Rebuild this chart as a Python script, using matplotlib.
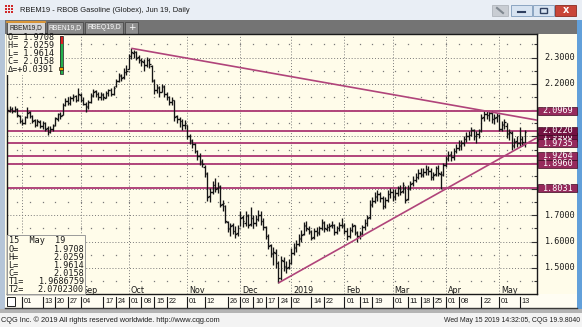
import matplotlib
matplotlib.use("Agg")
import matplotlib.pyplot as plt
from matplotlib.patches import Rectangle
from matplotlib import font_manager
import numpy as np
import pandas as pd

W, H, DPI = 582, 327, 100

# ---------------- data ----------------
holidays = ["2018-09-03", "2018-11-22", "2018-12-25", "2019-01-01",
            "2019-01-21", "2019-02-18", "2019-04-19"]
dates = pd.bdate_range("2018-07-24", "2019-05-15")
dates = dates[~dates.isin(pd.to_datetime(holidays))]

opens = [
    2.095, 2.098, 2.105, 2.096, 2.104, 2.078, 2.060, 2.052, 2.074, 2.092,
    2.076, 2.062, 2.044, 2.056, 2.038, 2.050, 2.032, 2.016, 2.028, 2.042,
    2.068, 2.086, 2.082, 2.118, 2.136, 2.126, 2.146, 2.152, 2.140, 2.158,
    2.140, 2.124, 2.112, 2.132, 2.156, 2.172, 2.160, 2.148, 2.160, 2.146,
    2.166, 2.176, 2.160, 2.190, 2.212, 2.232, 2.224, 2.246, 2.258, 2.306,
    2.318, 2.320, 2.302, 2.290, 2.284, 2.272, 2.290, 2.268, 2.212, 2.176,
    2.186, 2.170, 2.188, 2.162, 2.150, 2.130, 2.138, 2.076, 2.066, 2.058,
    2.044, 2.042, 2.002, 1.984, 1.972, 1.946, 1.926, 1.904, 1.885, 1.858,
    1.772, 1.788, 1.816, 1.802, 1.806, 1.742, 1.735, 1.675, 1.648, 1.662,
    1.642, 1.632, 1.700, 1.692, 1.672, 1.698, 1.668, 1.688, 1.672, 1.686,
    1.702, 1.678, 1.656, 1.622, 1.586, 1.552, 1.558, 1.518, 1.462, 1.528,
    1.506, 1.502, 1.518, 1.556, 1.578, 1.592, 1.612, 1.628, 1.662, 1.648,
    1.638, 1.616, 1.642, 1.634, 1.652, 1.672, 1.648, 1.656, 1.662, 1.662,
    1.636, 1.652, 1.664, 1.662, 1.642, 1.622, 1.646, 1.662, 1.632, 1.622,
    1.632, 1.656, 1.672, 1.692, 1.742, 1.756, 1.772, 1.782, 1.766, 1.736,
    1.760, 1.782, 1.790, 1.772, 1.786, 1.804, 1.792, 1.805, 1.762, 1.802,
    1.822, 1.836, 1.846, 1.862, 1.856, 1.866, 1.876, 1.868, 1.846, 1.856,
    1.878, 1.858, 1.856, 1.892, 1.916, 1.932, 1.920, 1.946, 1.956, 1.966,
    1.976, 1.990, 2.002, 2.006, 2.024, 2.000, 2.010, 2.025, 2.072, 2.086,
    2.080, 2.088, 2.066, 2.072, 2.078, 2.030, 2.046, 2.040, 2.012, 2.014,
    1.966, 1.982, 1.976, 1.990, 1.9708]
highs = [
    2.112, 2.115, 2.110, 2.114, 2.108, 2.082, 2.068, 2.078, 2.110, 2.096,
    2.082, 2.066, 2.068, 2.062, 2.060, 2.055, 2.040, 2.038, 2.048, 2.075,
    2.090, 2.092, 2.128, 2.145, 2.150, 2.155, 2.160, 2.158, 2.185, 2.165,
    2.148, 2.130, 2.138, 2.165, 2.180, 2.178, 2.168, 2.170, 2.165, 2.172,
    2.182, 2.185, 2.192, 2.218, 2.240, 2.238, 2.262, 2.270, 2.315, 2.335,
    2.330, 2.325, 2.310, 2.300, 2.296, 2.302, 2.298, 2.270, 2.220, 2.198,
    2.190, 2.200, 2.195, 2.170, 2.155, 2.150, 2.140, 2.082, 2.075, 2.065,
    2.062, 2.045, 2.010, 1.992, 1.975, 1.950, 1.935, 1.915, 1.890, 1.865,
    1.805, 1.830, 1.840, 1.825, 1.815, 1.760, 1.740, 1.680, 1.672, 1.670,
    1.660, 1.665, 1.715, 1.700, 1.718, 1.705, 1.730, 1.700, 1.700, 1.722,
    1.715, 1.690, 1.660, 1.630, 1.590, 1.580, 1.570, 1.525, 1.545, 1.540,
    1.525, 1.535, 1.575, 1.595, 1.605, 1.630, 1.645, 1.675, 1.680, 1.660,
    1.645, 1.650, 1.655, 1.660, 1.685, 1.680, 1.668, 1.672, 1.680, 1.668,
    1.660, 1.675, 1.690, 1.670, 1.650, 1.655, 1.672, 1.665, 1.640, 1.642,
    1.665, 1.685, 1.700, 1.760, 1.770, 1.790, 1.796, 1.790, 1.775, 1.770,
    1.795, 1.805, 1.800, 1.800, 1.812, 1.815, 1.825, 1.810, 1.815, 1.830,
    1.848, 1.860, 1.875, 1.878, 1.880, 1.890, 1.888, 1.880, 1.865, 1.888,
    1.890, 1.870, 1.900, 1.925, 1.945, 1.945, 1.955, 1.970, 1.985, 1.985,
    2.000, 2.015, 2.020, 2.035, 2.030, 2.020, 2.030, 2.085, 2.098, 2.098,
    2.097, 2.095, 2.085, 2.090, 2.085, 2.060, 2.065, 2.050, 2.030, 2.020,
    1.995, 2.000, 2.035, 2.000, 2.0259]
lows = [
    2.090, 2.092, 2.090, 2.094, 2.075, 2.050, 2.042, 2.048, 2.070, 2.070,
    2.052, 2.036, 2.040, 2.032, 2.030, 2.022, 2.005, 2.012, 2.020, 2.038,
    2.060, 2.068, 2.080, 2.115, 2.118, 2.120, 2.135, 2.132, 2.135, 2.130,
    2.118, 2.092, 2.105, 2.128, 2.150, 2.150, 2.140, 2.140, 2.138, 2.145,
    2.155, 2.152, 2.158, 2.188, 2.205, 2.212, 2.220, 2.235, 2.255, 2.295,
    2.300, 2.290, 2.280, 2.268, 2.250, 2.265, 2.262, 2.205, 2.160, 2.165,
    2.150, 2.168, 2.150, 2.140, 2.120, 2.118, 2.060, 2.050, 2.035, 2.025,
    2.030, 1.990, 1.970, 1.955, 1.935, 1.910, 1.890, 1.885, 1.845, 1.755,
    1.750, 1.780, 1.790, 1.785, 1.730, 1.715, 1.670, 1.635, 1.620, 1.630,
    1.615, 1.620, 1.660, 1.655, 1.660, 1.650, 1.660, 1.650, 1.660, 1.680,
    1.665, 1.645, 1.610, 1.570, 1.540, 1.510, 1.500, 1.443, 1.455, 1.490,
    1.480, 1.495, 1.515, 1.550, 1.560, 1.585, 1.600, 1.625, 1.640, 1.630,
    1.605, 1.610, 1.620, 1.625, 1.645, 1.635, 1.640, 1.640, 1.650, 1.625,
    1.628, 1.640, 1.650, 1.630, 1.605, 1.612, 1.635, 1.625, 1.600, 1.610,
    1.622, 1.645, 1.660, 1.685, 1.730, 1.745, 1.755, 1.750, 1.725, 1.728,
    1.752, 1.765, 1.755, 1.760, 1.775, 1.778, 1.785, 1.745, 1.760, 1.795,
    1.812, 1.825, 1.838, 1.845, 1.845, 1.855, 1.855, 1.835, 1.835, 1.850,
    1.850, 1.800, 1.850, 1.885, 1.905, 1.905, 1.912, 1.935, 1.948, 1.950,
    1.965, 1.980, 1.985, 2.000, 1.985, 1.975, 1.995, 2.015, 2.060, 2.065,
    2.060, 2.050, 2.048, 2.055, 2.020, 2.020, 2.030, 1.995, 1.985, 1.950,
    1.955, 1.960, 1.960, 1.962, 1.9614]
closes = [
    2.100, 2.104, 2.098, 2.106, 2.080, 2.058, 2.050, 2.072, 2.090, 2.078,
    2.060, 2.045, 2.058, 2.040, 2.050, 2.030, 2.018, 2.030, 2.040, 2.070,
    2.085, 2.078, 2.120, 2.135, 2.128, 2.145, 2.150, 2.140, 2.160, 2.140,
    2.125, 2.115, 2.130, 2.155, 2.170, 2.160, 2.150, 2.158, 2.148, 2.165,
    2.175, 2.160, 2.185, 2.210, 2.230, 2.222, 2.245, 2.250, 2.305, 2.320,
    2.322, 2.300, 2.292, 2.285, 2.270, 2.292, 2.275, 2.215, 2.175, 2.185,
    2.170, 2.190, 2.160, 2.150, 2.132, 2.140, 2.075, 2.065, 2.058, 2.045,
    2.050, 2.000, 1.985, 1.970, 1.945, 1.925, 1.905, 1.895, 1.860, 1.770,
    1.790, 1.815, 1.800, 1.810, 1.740, 1.745, 1.680, 1.650, 1.660, 1.640,
    1.630, 1.650, 1.690, 1.680, 1.700, 1.665, 1.690, 1.670, 1.685, 1.700,
    1.680, 1.655, 1.620, 1.585, 1.555, 1.560, 1.520, 1.460, 1.530, 1.505,
    1.500, 1.520, 1.555, 1.575, 1.590, 1.610, 1.625, 1.660, 1.650, 1.640,
    1.615, 1.640, 1.635, 1.650, 1.675, 1.650, 1.655, 1.660, 1.665, 1.635,
    1.650, 1.665, 1.660, 1.640, 1.620, 1.645, 1.660, 1.635, 1.620, 1.630,
    1.655, 1.670, 1.690, 1.740, 1.755, 1.770, 1.780, 1.765, 1.735, 1.760,
    1.780, 1.790, 1.770, 1.785, 1.805, 1.790, 1.815, 1.760, 1.800, 1.820,
    1.835, 1.845, 1.860, 1.855, 1.865, 1.875, 1.870, 1.845, 1.855, 1.880,
    1.860, 1.855, 1.890, 1.915, 1.930, 1.920, 1.945, 1.955, 1.965, 1.975,
    1.990, 2.000, 2.005, 2.025, 2.000, 2.010, 2.020, 2.070, 2.085, 2.080,
    2.090, 2.065, 2.070, 2.080, 2.030, 2.045, 2.055, 2.010, 2.015, 1.965,
    1.980, 1.975, 1.990, 1.977, 2.0158]

levels = [2.0969, 2.0220, 1.9735, 1.9264, 1.8960, 1.8031]
level_labels = ["2.0969", "2.0220", "1.9735", "1.9264", "1.8960", "1.8031"]
hidden_level, hidden_label = 1.9960, "1.9960"

trend_down = [("2018-10-02", 2.335), ("2019-05-15", 2.0702300)]
trend_up = [("2018-12-24", 1.443), ("2019-05-15", 1.9686759)]

price_ticks = [1.5, 1.6, 1.7, 1.8, 1.9, 2.0, 2.1, 2.2, 2.3]
price_labels_shown = [1.5, 1.6, 1.7, 2.2, 2.3]
price_minor = [1.45, 1.55, 1.65, 1.75, 1.85, 1.95, 2.05, 2.15, 2.25, 2.35]

date_ticks = ["2018-08-01", "2018-08-13", "2018-08-20", "2018-08-27", "2018-09-04",
              "2018-09-17", "2018-09-24", "2018-10-01", "2018-10-08", "2018-10-15",
              "2018-10-22", "2018-11-01", "2018-11-12", "2018-11-26", "2018-12-03",
              "2018-12-10", "2018-12-17", "2018-12-24", "2019-01-02", "2019-01-14",
              "2019-01-22", "2019-02-01", "2019-02-11", "2019-02-19", "2019-03-01",
              "2019-03-11", "2019-03-18", "2019-03-25", "2019-04-01", "2019-04-08",
              "2019-04-22", "2019-05-01", "2019-05-13"]
month_starts = ["2018-08-01", "2018-09-04", "2018-10-01", "2018-11-01", "2018-12-03",
                "2019-01-02", "2019-02-01", "2019-03-01", "2019-04-01", "2019-05-01"]
month_label_dates = month_starts[1:]
month_names = ["Sep", "Oct", "Nov", "Dec", "2019", "Feb", "Mar", "Apr", "May"]

info_top = ["O= 1.9708", "H= 2.0259", "L= 1.9614", "C= 2.0158", "Δ=+0.0391"]
info_bottom_keys = ["O=", "H=", "L=", "C=", "T1=", "T2="]
info_bottom_vals = ["1.9708", "2.0259", "1.9614", "2.0158", "1.9686759", "2.0702300"]

# ---------------- styling ----------------
names = {f.name for f in font_manager.fontManager.ttflist}
NARROW = "Liberation Sans Narrow" if "Liberation Sans Narrow" in names else "Liberation Sans"
MONO = "DejaVu Sans Mono"
CREAM = "#FFFCEA"
LINE = "#B0447A"
BOX = "#962A5C"
BOX_DARK = "#731242"
GRID = "#7a7a7a"

fig = plt.figure(figsize=(W / DPI, H / DPI), dpi=DPI)
rend = fig.canvas.get_renderer()

bg = fig.add_axes([0, 0, 1, 1])
bg.set_xlim(0, W); bg.set_ylim(H, 0); bg.axis("off"); bg.set_zorder(0)

PL, PR, PT, PB = 6.5, 537.3, 33.5, 294.3
ax = fig.add_axes([PL / W, 1 - PB / H, (PR - PL) / W, (PB - PT) / H])
ax.set_zorder(1); ax.patch.set_alpha(0)
ax.set_xlim(-0.2, 209.0)
ax.set_ylim(1.3996, 2.3913)

ov = fig.add_axes([0, 0, 1, 1])
ov.set_xlim(0, W); ov.set_ylim(H, 0); ov.axis("off"); ov.set_zorder(2); ov.patch.set_alpha(0)


def R(axx, x, y, w, h, fc, ec="none", lw=0.0, z=1):
    p = Rectangle((x, y), w, h, facecolor=fc, edgecolor=ec, linewidth=lw, zorder=z)
    axx.add_patch(p)
    return p


def fit_text(axx, x, y, s, width, family, ha="left", va="center", color="black", z=5):
    t = axx.text(x, y, s, fontsize=10, family=family, ha=ha, va=va, color=color, zorder=z)
    w = t.get_window_extent(rend).width
    t.set_fontsize(10 * width / w)
    return t


pos = {d: i for i, d in enumerate(dates)}


def idx(s):
    return pos[pd.Timestamp(s)]


def xpx(i):
    return ax.transData.transform((i, 2.0))[0]


def ypx(p):
    return H - ax.transData.transform((0, p))[1]


# ---------------- window chrome ----------------
R(bg, 0, 0, W, H, "#C9D6E6")
R(bg, 0, 0, W, 20, "#E9EEF5")
R(bg, 577, 20, 5, 292, "#62A0DA")
R(bg, 0, 20, 5, 292, "#B5C5D8")
R(bg, 5, 20, 572, 13.5, "#747474")
# tabs
R(bg, 7, 21.5, 38, 12, "#D6D6D6", "#4a4a4a", 0.6, 2)
bg.plot([7, 45], [21.6, 21.6], color="#F0A030", lw=1.2, zorder=3)
R(bg, 47, 21.5, 36, 12, "#8E8E8E", "#4a4a4a", 0.6, 2)
R(bg, 85, 21.5, 38, 12, "#8E8E8E", "#4a4a4a", 0.6, 2)
R(bg, 125, 21.5, 13, 12, "#8E8E8E", "#4a4a4a", 0.6, 2)
fit_text(bg, 26, 27.6, "RBEM19,D", 33, NARROW, ha="center", color="#202020")
fit_text(bg, 65, 27.6, "RBEN19,D", 33, NARROW, ha="center", color="white")
fit_text(bg, 104, 27.6, "RBEQ19,D", 33, NARROW, ha="center", color="white")
bg.text(131.5, 27.3, "+", fontsize=6.5, ha="center", va="center", color="white", zorder=5)
# title
for r in range(3):
    for c in range(3):
        R(bg, 5 + c * 3, 5 + r * 3, 2, 2, "#D02828", z=3)
fit_text(bg, 20, 10.5, "RBEM19 - RBOB Gasoline (Globex), Jun 19, Daily", 168, NARROW, color="#1a1a1a")
# window buttons
R(bg, 492, 5, 16, 11, "#C9CDD3", "#a8adb5", 0.5, 2)
bg.plot([497, 503], [8, 13], color="#808890", lw=1.5, zorder=3)
R(bg, 511, 5, 21, 11, "#D7E3F1", "#7f9bbb", 0.6, 2)
bg.plot([518, 525], [11.5, 11.5], color="#304060", lw=1.5, zorder=3)
R(bg, 533, 5, 21, 11, "#D7E3F1", "#7f9bbb", 0.6, 2)
R(bg, 540, 8, 7, 5, "none", "#304060", 1.0, 3)
R(bg, 555, 5, 21, 11, "#C94538", "#8a2a20", 0.6, 2)
bg.text(565.5, 10.3, "x", fontsize=7, ha="center", va="center", color="white", weight="bold", zorder=4)
# chart + axis area
R(bg, 5, 33.5, 572, 261, CREAM)
R(bg, 5, 294.3, 572, 13.5, "#FFFDF3")
bg.plot([5, 577], [307.8, 307.8], color="#3a3a3a", lw=1.0, zorder=2)
R(bg, 0, 308.5, W, 4, "#B4B4B4")
R(bg, 0, 312.5, W, 14.5, "#F3F3F3")
R(bg, 7, 296.5, 8, 9.5, "white", "#202020", 0.7, 2)
fit_text(bg, 1, 320.3, "CQG Inc. \u00a9 2019 All rights reserved worldwide. http://www.cqg.com", 221, NARROW, color="#202020")
fit_text(bg, 580, 320.3, "Wed May 15 2019 14:32:05, CQG 19.9.8040", 136, NARROW, ha="right", color="#202020")

# ---------------- chart ----------------
for s in ax.spines.values():
    s.set_color("#1a1a1a"); s.set_linewidth(1.0)
ax.set_xticks([])
ax.yaxis.set_ticks_position("right")
ax.set_yticks(price_ticks)
ax.set_yticks(price_minor, minor=True)
ax.set_yticklabels([])
ax.tick_params(axis="y", which="major", direction="in", length=4, width=0.8, colors="#333333")
ax.tick_params(axis="y", which="minor", direction="in", length=2, width=0.8, colors="#333333")

for p in price_ticks:
    ax.axhline(p, color=GRID, lw=0.7, ls=(0, (1, 2)), zorder=1)
for d in month_starts:
    ax.axvline(idx(d), color=GRID, lw=0.7, ls=(0, (1, 2)), zorder=1)
# weekly minor dots (including upcoming weeks in the blank right margin)
ext = pd.bdate_range(dates[0], "2019-05-31")
ext = ext[~ext.isin(pd.to_datetime(holidays))]
wk = [i for i in range(1, len(ext)) if ext[i].weekday() < ext[i - 1].weekday()]
for p in price_minor:
    ax.plot(wk, [p] * len(wk), ls="none", marker="s", ms=0.9, color=GRID, mew=0, zorder=1)

for lv in levels:
    ax.axhline(lv, color=LINE, lw=1.4, zorder=2)

x = np.arange(len(dates))
BARC = "#141414"
ax.vlines(x, lows, highs, color=BARC, lw=0.95, zorder=5)
ax.hlines(opens, x - 0.6, x, color=BARC, lw=0.95, zorder=5)
ax.hlines(closes, x, x + 0.6, color=BARC, lw=0.95, zorder=5)

xr = ax.get_xlim()[1]
for (d1, p1), (d2, p2) in (trend_down, trend_up):
    x1, x2 = idx(d1), idx(d2)
    pr = p2 + (p2 - p1) / (x2 - x1) * (xr - x2)
    ax.plot([x1, xr], [p1, pr], color=LINE, lw=1.2, zorder=6, solid_capstyle="butt")

# ---------------- overlays ----------------
# right axis price labels (the others sit under the level boxes)
for p in price_labels_shown:
    ov.text(559.5, ypx(p), f"{p:.4f}", family=MONO, fontsize=6.1, ha="center", va="center",
            color="#1a1a1a", zorder=2)
# partly hidden trendline label between 2.0220 and 1.9735
R(ov, 538.2, ypx(hidden_level) - 4, 38.5, 8, BOX_DARK, "#2a0515", 0.5, 3)
ht = ov.text(557.5, ypx(hidden_level) - 1.2, hidden_label, family=MONO, fontsize=6.1,
             ha="center", va="center", color="white", zorder=3)
clip = Rectangle((538.2, ypx(2.0220) + 4), 38.5, ypx(1.9735) - ypx(2.0220) - 8,
                 transform=ov.transData)
ht.set_clip_path(clip)
for lv, lab in zip(levels, level_labels):
    fc = BOX_DARK if lab == "2.0220" else BOX
    z = 4 if lab != "1.9735" else 5
    R(ov, 538.2, ypx(lv) - 4, 38.5, 8, fc, "#3a0a20", 0.5, z)
    ov.text(557.5, ypx(lv), lab, family=MONO, fontsize=6.1, ha="center", va="center",
            color="white", zorder=z)

# month labels and date row
for d, name in zip(month_label_dates, month_names):
    ov.text(xpx(idx(d)) + 1.8, 290.8, name, fontsize=5.8, family="DejaVu Sans",
            ha="left", va="center", color="#1a1a1a", zorder=3)
for d in date_ticks:
    xp = xpx(idx(d))
    bg.plot([xp, xp], [296.5, 306.5], color="#1a1a1a", lw=0.8, zorder=3)
    fit_text(bg, xp + 1.8, 301.8, pd.Timestamp(d).strftime("%d"), 8.2, NARROW, color="#1a1a1a")

# top-left info panel
R(ov, 7, 34.5, 57, 40, CREAM, z=4)
for k, s in enumerate(info_top):
    ov.text(7.5, 37.4 + 8.15 * k, s, family=MONO, fontsize=6.1, ha="left", va="center",
            color="#1a1a1a", zorder=5)
R(ov, 59.5, 35.5, 3, 8, "#E02020", z=5)
R(ov, 59.5, 43.5, 3, 30.5, "#22B14C", z=5)
R(ov, 59.5, 35.5, 3, 38.5, "none", "#303030", 0.6, 6)
R(ov, 59.3, 67.3, 3.4, 2.6, "#F0A000", "#202020", 0.5, 7)

# bottom-left info box
R(ov, 7, 235, 78, 59.3, CREAM, "#9a9a9a", 0.7, 6)
ov.text(9, 240.8, "15  May  19", family=MONO, fontsize=6.1, ha="left", va="center",
        color="#1a1a1a", zorder=7)
for k, (kk, vv) in enumerate(zip(info_bottom_keys, info_bottom_vals)):
    yy = 249.2 + 8.05 * k
    ov.text(8.5, yy, kk, family=MONO, fontsize=6.1, ha="left", va="center", color="#1a1a1a", zorder=7)
    ov.text(83.8, yy, vv, family=MONO, fontsize=6.1, ha="right", va="center", color="#1a1a1a", zorder=7)

fig.savefig("out.png", dpi=DPI)
